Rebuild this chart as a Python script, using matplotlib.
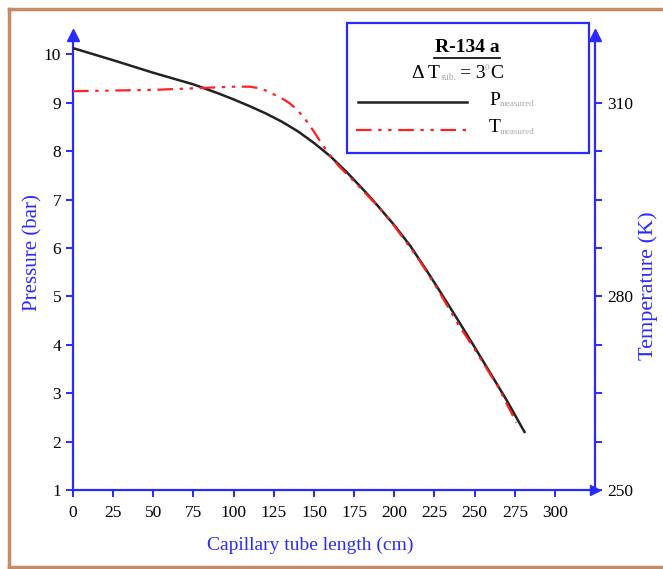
import matplotlib
matplotlib.use('Agg')
import matplotlib.pyplot as plt
from matplotlib.lines import Line2D
from matplotlib.patches import Rectangle

plt.rcParams['font.family'] = ['Liberation Serif', 'DejaVu Serif']

# ── data ──────────────────────────────────────────────
length_p = [0, 25, 50, 75, 90, 100, 110, 120, 130, 140, 150, 160, 170, 180, 190, 200,
            210, 220, 230, 240, 250, 260, 270, 281]
pressure = [10.13, 9.88, 9.62, 9.38, 9.20, 9.07, 8.93, 8.78, 8.61, 8.41, 8.17, 7.90, 7.58, 7.23,
            6.86, 6.47, 6.04, 5.54, 5.02, 4.49, 3.95, 3.40, 2.85, 2.20]

length_t = [0, 25, 50, 75, 100, 110, 115, 120, 125, 130, 135, 140, 145, 150, 155, 160, 165,
            175, 190, 200, 215, 225, 240, 250, 265, 276]
temperature = [311.8, 311.9, 312.0, 312.25, 312.5, 312.5, 312.3, 311.9, 311.3, 310.7, 309.9, 308.8,
               307.3, 305.5, 303.6, 301.8, 300.3, 297.8, 293.9, 290.9, 285.8, 281.9, 275.6, 271.8,
               265.8, 260.4]

x_ticks = [0, 25, 50, 75, 100, 125, 150, 175, 200, 225, 250, 275, 300]
p_ticks = [1, 2, 3, 4, 5, 6, 7, 8, 9, 10]
t_major = [250, 280, 310]
t_minor = [257.5, 265, 272.5, 287.5, 295, 302.5]

BLUE = '#2a2aff'
W, H = 663, 569

fig = plt.figure(figsize=(W / 100, H / 100), dpi=100)
fig.patch.set_facecolor('white')

# brown frame (left, top, bottom)
frame = '#c58a66'
fig.add_artist(Line2D([9 / W, 9 / W], [2 / H, 1 - 9 / H], color=frame, lw=2.5, transform=fig.transFigure))
fig.add_artist(Line2D([9 / W, 1], [1 - 9 / H, 1 - 9 / H], color=frame, lw=2.5, transform=fig.transFigure))
fig.add_artist(Line2D([9 / W, 1], [2 / H, 2 / H], color=frame, lw=2.5, transform=fig.transFigure))

x0, x1, yb, yt = 73, 595, 490, 35
ax = fig.add_axes([x0 / W, 1 - yb / H, (x1 - x0) / W, (yb - yt) / H])
ax.set_xlim(0, 324.9)
ptop = 1 + (yb - yt) / 48.4
ax.set_ylim(1, ptop)

ax.plot(length_p, pressure, color='#222222', lw=1.8, zorder=3)

ax2 = ax.twinx()
ax2.set_ylim(250, 250 + 7.5 * (ptop - 1))
ax2.plot(length_t, temperature, color='#ff2020', lw=1.6, linestyle=(0, (7, 3, 1.5, 3, 1.5, 3)), zorder=4)

for a in (ax, ax2):
    a.spines['top'].set_visible(False)
    for s in ('left', 'right', 'bottom'):
        a.spines[s].set_color(BLUE)
        a.spines[s].set_linewidth(1.6)
ax.spines['right'].set_visible(False)
ax2.spines['left'].set_visible(False)
ax2.spines['bottom'].set_visible(False)

ax.set_xticks(x_ticks)
ax.set_yticks(p_ticks)
ax.tick_params(axis='both', colors=BLUE, labelcolor='black', length=5, width=1.4, labelsize=12.5)
ax.tick_params(axis='x', pad=6)

ax2.set_yticks(t_major)
ax2.set_yticks(t_minor, minor=True)
ax2.tick_params(axis='y', which='both', colors=BLUE, labelcolor='black', length=5, width=1.4, labelsize=12.5)

# axis arrows
ax.plot(0, 1, marker='^', ms=9, color=BLUE, transform=ax.transAxes, clip_on=False)
ax.plot(1, 1, marker='^', ms=9, color=BLUE, transform=ax.transAxes, clip_on=False)
ax.plot(1, 0, marker='>', ms=7, color=BLUE, transform=ax.transAxes, clip_on=False)

ax.set_xlabel('Capillary tube length (cm)', color=BLUE, fontsize=14)
ax.xaxis.set_label_coords((310 - x0) / (x1 - x0), -(537 - yb) / (yb - yt))
ax.set_ylabel('Pressure (bar)', color=BLUE, fontsize=15)
ax.yaxis.set_label_coords(-(x0 - 42) / (x1 - x0), (yb - 253) / (yb - yt))
ax2.set_ylabel('Temperature (K)', color=BLUE, fontsize=16, rotation=90)
ax2.yaxis.set_label_coords(1 + (638 - x1) / (x1 - x0), (yb - 286) / (yb - yt))

# legend box
fig.add_artist(Rectangle((347 / W, 1 - 153 / H), (589 - 347) / W, (153 - 23) / H,
                         transform=fig.transFigure, facecolor='white', edgecolor=BLUE, lw=1.6, zorder=5))
fig.text(467 / W, 1 - 47 / H, 'R-134 a', ha='center', va='center', fontsize=14,
         fontweight='bold', zorder=6)
fig.add_artist(Line2D([434 / W, 500 / W], [1 - 58 / H, 1 - 58 / H], color='black', lw=1.2,
                      transform=fig.transFigure, zorder=6))
fig.text(412 / W, 1 - 73 / H, 'Δ T', ha='left', va='center', fontsize=14, zorder=6)
fig.text(441 / W, 1 - 78 / H, 'sub.', ha='left', va='center', fontsize=7, color='#aaaaaa', zorder=6)
fig.text(460 / W, 1 - 73 / H, '= 3', ha='left', va='center', fontsize=14, zorder=6)
fig.text(485 / W, 1 - 68 / H, '0', ha='left', va='center', fontsize=6, color='#aaaaaa', zorder=6)
fig.text(490 / W, 1 - 73 / H, 'C', ha='left', va='center', fontsize=14, zorder=6)

fig.add_artist(Line2D([358 / W, 467 / W], [1 - 102 / H, 1 - 102 / H], color='#222222', lw=1.8,
                      transform=fig.transFigure, zorder=6))
fig.add_artist(Line2D([356 / W, 467 / W], [1 - 130 / H, 1 - 130 / H], color='#ff2020', lw=1.6,
                      linestyle=(0, (7, 3, 1.5, 3, 1.5, 3)), transform=fig.transFigure, zorder=6))
for yy, sym in ((100, 'P'), (128, 'T')):
    fig.text(489 / W, 1 - yy / H, sym, ha='left', va='center', fontsize=14, zorder=6)
    fig.text(500 / W, 1 - (yy + 4) / H, 'measured', ha='left', va='center', fontsize=6.5,
             color='#aaaaaa', zorder=6)

fig.savefig('out.png', dpi=100)
